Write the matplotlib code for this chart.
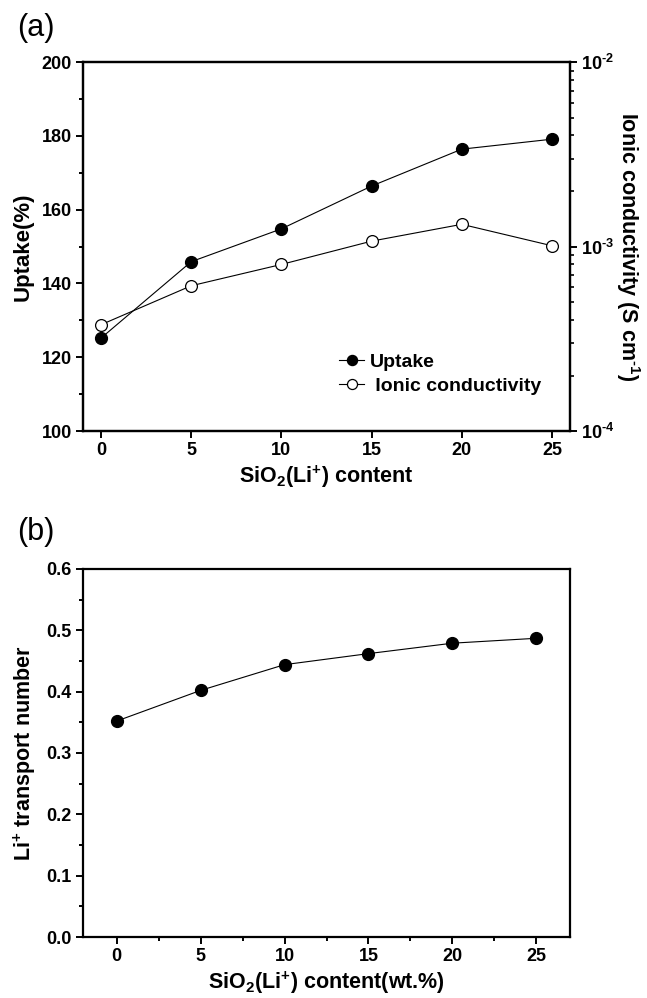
import matplotlib
matplotlib.use("Agg")
import matplotlib.pyplot as plt
from matplotlib.ticker import MultipleLocator, LogLocator, NullFormatter

plt.rcParams['font.family'] = ['Liberation Sans', 'DejaVu Sans']
plt.rcParams['font.weight'] = 'bold'
plt.rcParams['mathtext.default'] = 'regular'
plt.rcParams['axes.linewidth'] = 1.6

# Data
content = [0, 5, 10, 15, 20, 25]
uptake = [125.2, 145.9, 154.8, 166.4, 176.4, 179.1]
conductivity = [3.77e-4, 6.13e-4, 8.0e-4, 1.07e-3, 1.32e-3, 1.01e-3]
transport = [0.352, 0.402, 0.444, 0.462, 0.479, 0.487]
log_ticks = [1e-4, 1e-3, 1e-2]
log_labels = ['10$^{\u20104}$', '10$^{\u20103}$', '10$^{\u20102}$']

fig = plt.figure(figsize=(6.47, 9.98), dpi=100)

TICK = 13
LAB = 15.5

ax = fig.add_axes([0.1283, 0.5681, 0.7527, 0.3697])
ax2 = ax.twinx()
l1, = ax.plot(content, uptake, '-o', color='black', lw=0.8, ms=8.5,
              mfc='black', mec='black', label='Uptake', zorder=3)
l2, = ax2.plot(content, conductivity, '-o', color='black', lw=0.8, ms=8.5,
               mfc='white', mec='black', mew=0.9, label='Ionic conductivity', zorder=3)
ax.set_xlim(-1, 26)
ax.set_ylim(100, 200)
ax2.set_yscale('log')
ax2.set_ylim(1e-4, 1e-2)
ax.set_xticks(content)
ax.yaxis.set_major_locator(MultipleLocator(20))
ax.yaxis.set_minor_locator(MultipleLocator(10))
ax2.set_yticks(log_ticks)
ax2.set_yticklabels(log_labels)
ax2.yaxis.set_minor_locator(LogLocator(base=10, subs=range(2, 10), numticks=20))
ax2.yaxis.set_minor_formatter(NullFormatter())
ax.tick_params(axis='both', which='major', length=5, width=1.4, labelsize=TICK, pad=3)
ax.tick_params(axis='y', which='minor', length=3, width=1.4)
ax2.tick_params(axis='y', which='major', length=5, width=1.4, labelsize=TICK, pad=3)
ax2.tick_params(axis='y', which='minor', length=3, width=1.2)
ax.set_ylabel('Uptake(%)', fontsize=16, fontweight='bold', labelpad=6)
ax2.set_ylabel('Ionic conductivity (S cm$^{\u20101}$)', fontsize=LAB, fontweight='bold',
               rotation=270, labelpad=20)
ax.set_xlabel('SiO$_2$(Li$^{+}$) content', fontsize=LAB, fontweight='bold', labelpad=3)
leg = ax.legend([l1, l2], ['Uptake', ' Ionic conductivity'], loc='lower left',
                bbox_to_anchor=(0.49, 0.05), frameon=False, fontsize=14,
                handlelength=1.3, handletextpad=0.3, labelspacing=0.35, markerscale=0.85)
fig.text(0.026, 0.972, '(a)', fontsize=22, fontweight='normal',
         va='center', ha='left')

bx = fig.add_axes([0.1283, 0.0611, 0.7527, 0.3688])
bx.plot(content, transport, '-o', color='black', lw=0.8, ms=8.5, mfc='black', mec='black')
bx.set_xlim(-2, 27)
bx.set_ylim(0.0, 0.6)
bx.set_xticks(content)
bx.xaxis.set_minor_locator(MultipleLocator(2.5))
bx.yaxis.set_major_locator(MultipleLocator(0.1))
bx.yaxis.set_minor_locator(MultipleLocator(0.05))
bx.yaxis.set_major_formatter(plt.FormatStrFormatter('%.1f'))
bx.tick_params(axis='both', which='major', length=5, width=1.4, labelsize=TICK, pad=3)
bx.tick_params(axis='both', which='minor', length=3, width=1.4)
bx.set_ylabel('Li$^{+}$ transport number', fontsize=LAB, fontweight='bold', labelpad=6)
bx.set_xlabel('SiO$_2$(Li$^{+}$) content(wt.%)', fontsize=LAB, fontweight='bold', labelpad=3)
fig.text(0.026, 0.467, '(b)', fontsize=22, fontweight='normal',
         va='center', ha='left')

fig.savefig('out.png', dpi=100)
